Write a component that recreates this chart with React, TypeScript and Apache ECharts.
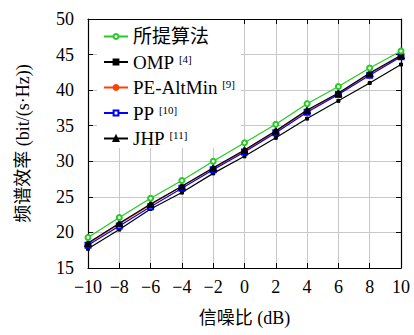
import React, { useEffect, useRef } from "react";
import * as echarts from "echarts";

const snr = [-10, -8, -6, -4, -2, 0, 2, 4, 6, 8, 10];
const proposed = [19.3, 22.1, 24.8, 27.3, 30.0, 32.6, 35.2, 38.1, 40.5, 43.1, 45.5];
const omp = [17.7, 20.4, 23.3, 25.6, 28.3, 30.7, 33.3, 36.0, 38.5, 41.0, 43.6];
const peAltMin = [18.4, 21.2, 23.9, 26.5, 29.0, 31.5, 34.2, 37.1, 39.5, 42.3, 44.8];
const pp = [18.2, 20.9, 23.6, 26.2, 28.8, 31.3, 34.0, 36.9, 39.4, 42.1, 44.7];
const jhp = [18.5, 21.3, 24.0, 26.5, 29.1, 31.6, 34.3, 37.2, 39.6, 42.4, 44.9];
const seriesNames = ["所提算法", "OMP", "PE-AltMin", "PP", "JHP"];
const refs: Record<string, string> = { OMP: "[4]", "PE-AltMin": "[9]", PP: "[10]", JHP: "[11]" };

const serif = "'Liberation Serif', 'Noto Sans CJK SC', serif";
const minus = (v: number) => (v < 0 ? "\u2212" + Math.abs(v) : String(v));

export default function App() {
  const ref = useRef<HTMLDivElement>(null);
  useEffect(() => {
    const chart = echarts.init(ref.current!, null, { renderer: "svg" });
    const mk = (name: string, data: number[], color: string, symbol: string, size: number, z: number) => ({
      name,
      type: "line",
      data: snr.map((x, i) => [x, data[i]]),
      symbol,
      symbolSize: size,
      z,
      lineStyle: { color, width: 1.2 },
      itemStyle: { color, borderColor: color, borderWidth: 1 },
    });
    const gridLine = { show: true, lineStyle: { color: "#c8c8c8", width: 1 } };
    const frame = { show: true, onZero: false, lineStyle: { color: "#000", width: 1.2 } };
    const tick = { show: true, inside: true, length: 5, lineStyle: { color: "#000" } };
    chart.setOption({
      animation: false,
      backgroundColor: "#fff",
      grid: { left: 88, right: 13, top: 19, bottom: 67 },
      xAxis: [
        {
          type: "value",
          min: -10,
          max: 10,
          interval: 2,
          name: "信噪比 (dB)",
          nameLocation: "middle",
          nameGap: 41,
          nameTextStyle: { fontFamily: serif, fontSize: 18, color: "#000" },
          axisLine: frame,
          axisTick: tick,
          axisLabel: { formatter: minus, fontFamily: serif, fontSize: 18, color: "#000", margin: 10 },
          splitLine: gridLine,
        },
        {
          type: "value",
          position: "top",
          min: -10,
          max: 10,
          interval: 2,
          axisLine: frame,
          axisTick: tick,
          axisLabel: { show: false },
          splitLine: { show: false },
        },
      ],
      yAxis: [
        {
          type: "value",
          min: 15,
          max: 50,
          interval: 5,
          name: "频谱效率 (bit/(s·Hz))",
          nameLocation: "middle",
          nameRotate: 90,
          nameGap: 56,
          nameTextStyle: { fontFamily: serif, fontSize: 18, color: "#000" },
          axisLine: frame,
          axisTick: tick,
          axisLabel: { fontFamily: serif, fontSize: 18, color: "#000", margin: 14 },
          splitLine: gridLine,
        },
        {
          type: "value",
          position: "right",
          min: 15,
          max: 50,
          interval: 5,
          axisLine: frame,
          axisTick: tick,
          axisLabel: { show: false },
          splitLine: { show: false },
        },
      ],
      legend: {
        orient: "vertical",
        left: 97,
        top: 20,
        data: seriesNames,
        itemWidth: 24,
        itemHeight: 6,
        itemGap: 6.5,
        backgroundColor: "#fff",
        padding: [7, 6, 0, 6],
        z: 1,
        formatter: (name: string) => (refs[name] ? `{n|${name}} {s|${refs[name]}}` : `{n|${name}}`),
        textStyle: {
          fontFamily: serif,
          fontSize: 19,
          color: "#000",
          lineHeight: 18,
          rich: {
            n: { fontFamily: serif, fontSize: 19, color: "#000", lineHeight: 18, height: 18 },
            s: { fontFamily: serif, fontSize: 11, color: "#000", verticalAlign: "top", lineHeight: 10 },
          },
        },
      },
      series: [
        mk("OMP", omp, "#000000", "rect", 3, 2),
        mk("PE-AltMin", peAltMin, "#ff4000", "circle", 4, 3),
        mk("PP", pp, "#0000ff", "emptyRect", 5, 4),
        mk("JHP", jhp, "#000000", "triangle", 7, 5),
        mk("所提算法", proposed, "#22cc22", "emptyCircle", 5, 6),
      ],
    });
    return () => chart.dispose();
  }, []);
  return <div ref={ref} style={{ position: "fixed", left: 0, top: 0, width: 414, height: 335 }} />;
}
